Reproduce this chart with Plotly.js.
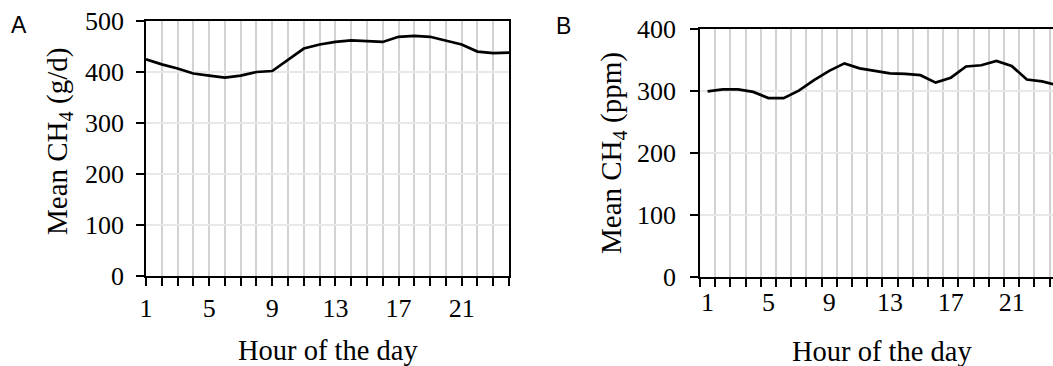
<!DOCTYPE html>
<html>
<head>
<meta charset="utf-8">
<script src="https://cdn.plot.ly/plotly-3.0.1.min.js"></script>
<style>html,body{margin:0;padding:0;background:#fff;}#chart{width:1053px;height:366px;}</style>
</head>
<body>
<div id="chart"></div>
<script>
const hours = [1,2,3,4,5,6,7,8,9,10,11,12,13,14,15,16,17,18,19,20,21,22,23,24];
const emissionA = [425,415,407,397,393,389,393,400,402,424,446,454,459,462,460,459,469,471,469,461,454,440,437,438];
const concentrationB = [300,303,303,299,289,289,301,318,333,345,337,333,329,328,326,314,322,340,342,349,341,319,316,310];
const xTitle = 'Hour of the day';
const yTitleA = 'Mean CH<sub>4</sub> (g/d)';
const yTitleB = 'Mean CH<sub>4</sub> (ppm)';
const panelLabels = ['A', 'B'];

const W = 1053, H = 366;
const px = x => x / W;
const py = y => 1 - y / H;

const serif = 'Liberation Serif, Times New Roman, serif';
const tickFont = {family: serif, size: 26, color: '#000'};
const vGrid = '#d2d2d2';
const hGrid = '#e8e8e8';

const traces = [
  {x: hours, y: emissionA, type: 'scatter', mode: 'lines', line: {color: '#000', width: 2.7}, xaxis: 'x', yaxis: 'y', hoverinfo: 'skip'},
  {x: hours, y: concentrationB, type: 'scatter', mode: 'lines', line: {color: '#000', width: 2.7}, xaxis: 'x2', yaxis: 'y2', hoverinfo: 'skip'},
  // empty traces so the label-only axes get drawn
  {x: [], y: [], type: 'scatter', mode: 'lines', xaxis: 'x', yaxis: 'y3', hoverinfo: 'skip'},
  {x: [], y: [], type: 'scatter', mode: 'lines', xaxis: 'x2', yaxis: 'y4', hoverinfo: 'skip'}
];

const commonX = {
  showline: true, linecolor: '#000', linewidth: 2, mirror: true,
  ticks: 'outside', ticklen: 8, tickwidth: 2, tickcolor: '#000',
  tickfont: tickFont, ticklabelstandoff: 0, zeroline: false, fixedrange: true
};
const commonY = {
  showline: true, linecolor: '#000', linewidth: 2,
  ticks: 'outside', ticklen: 8, tickwidth: 2, tickcolor: '#000',
  showticklabels: false, zeroline: false, fixedrange: true,
  showgrid: true, gridcolor: hGrid, gridwidth: 2, dtick: 100, tick0: 0
};
// label-only axes placed a little further left of the plotted y axes
const labelY = {
  anchor: 'free', showline: false, ticks: '', showgrid: false, zeroline: false,
  tickfont: tickFont, dtick: 100, tick0: 0, fixedrange: true
};

const layout = {
  width: W, height: H,
  margin: {l: 0, r: 0, t: 0, b: 0},
  paper_bgcolor: '#fff', plot_bgcolor: '#fff',
  showlegend: false,
  xaxis: Object.assign({}, commonX, {
    domain: [px(146), px(509)], range: [1, 24], anchor: 'y',
    tickmode: 'linear', tick0: 1, dtick: 4,
    showgrid: true, gridcolor: vGrid, gridwidth: 2,
    minor: {tick0: 1, dtick: 1, ticks: 'outside', ticklen: 8, tickwidth: 2, tickcolor: '#000', showgrid: true, gridcolor: vGrid, gridwidth: 2}
  }),
  yaxis: Object.assign({}, commonY, {
    domain: [py(276), py(21)], range: [0, 500], anchor: 'x', mirror: true
  }),
  yaxis3: Object.assign({}, labelY, {
    overlaying: 'y', range: [0, 500], position: px(124)
  }),
  xaxis2: Object.assign({}, commonX, {
    domain: [px(700), 1], range: [0.5, 23.72], anchor: 'y2',
    tickmode: 'linear', tick0: 1, dtick: 4, ticks: '', showgrid: false,
    minor: {tick0: 0.5, dtick: 1, ticks: 'outside', ticklen: 8, tickwidth: 2, tickcolor: '#000', showgrid: true, gridcolor: vGrid, gridwidth: 2}
  }),
  yaxis2: Object.assign({}, commonY, {
    domain: [py(277.3), py(29.3)], range: [0, 400], anchor: 'x2', mirror: false
  }),
  yaxis4: Object.assign({}, labelY, {
    overlaying: 'y2', range: [0, 400], position: px(676)
  }),
  annotations: [
    {text: xTitle, xref: 'paper', yref: 'paper', x: px(327.5), y: py(350.5), xanchor: 'center', yanchor: 'middle', showarrow: false, font: {family: serif, size: 28.5, color: '#000'}},
    {text: xTitle, xref: 'x2', yref: 'paper', x: 12.5, y: py(351), xanchor: 'center', yanchor: 'middle', showarrow: false, font: {family: serif, size: 28.5, color: '#000'}},
    {text: yTitleA, xref: 'paper', yref: 'paper', x: px(59), y: py(142), xanchor: 'center', yanchor: 'middle', textangle: -90, showarrow: false, font: {family: serif, size: 29, color: '#000'}},
    {text: yTitleB, xref: 'paper', yref: 'paper', x: px(613), y: py(153), xanchor: 'center', yanchor: 'middle', textangle: -90, showarrow: false, font: {family: serif, size: 29, color: '#000'}},
    {text: panelLabels[0], xref: 'paper', yref: 'paper', x: px(19), y: py(25), xanchor: 'center', yanchor: 'middle', showarrow: false, font: {family: 'Liberation Sans, Arial, sans-serif', size: 23, color: '#000'}},
    {text: panelLabels[1], xref: 'paper', yref: 'paper', x: px(563), y: py(25.5), xanchor: 'center', yanchor: 'middle', showarrow: false, font: {family: 'Liberation Sans, Arial, sans-serif', size: 23, color: '#000'}}
  ]
};

Plotly.newPlot('chart', traces, layout, {displayModeBar: false, staticPlot: true});
</script>
</body>
</html>
